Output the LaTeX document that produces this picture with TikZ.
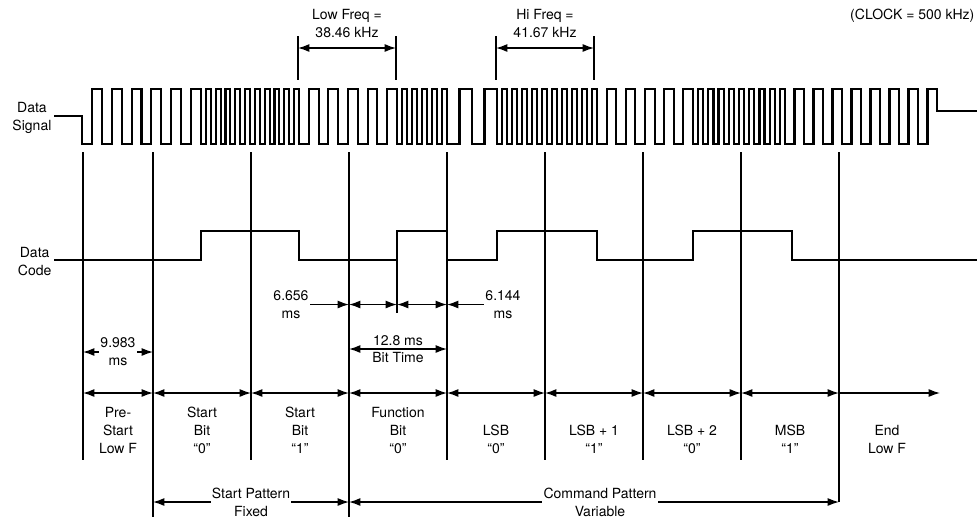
\documentclass[tikz,border=0pt]{standalone}
\usepackage{fontspec}
\setmainfont{TeX Gyre Heros}
\usetikzlibrary{arrows.meta}

\begin{document}
\begin{tikzpicture}[x=0.75pt,y=-0.75pt,font=\fontsize{10.5}{13.5}\selectfont,>={Latex[length=8.5pt,width=6pt]}]
  \tikzstyle{wave}=[line width=1.6pt,line join=miter]
  \tikzstyle{guide}=[line width=0.8pt]
  \tikzstyle{dim}=[line width=1pt,<->]
  \tikzstyle{dimto}=[line width=1pt,->]
  \tikzstyle{txt}=[align=center,inner sep=1pt]
  \useasboundingbox (0,0) rectangle (978,519);

  \foreach \x/\e [count=\i from 0] in {83/460,153/517,251/460,349/517,447/460,545/460,643/460,741/460,839/502}{
    \coordinate (t\i) at (\x,152);
    \coordinate (r\i) at (\x,393);
    \coordinate (e\i) at (\x,\e);
    \draw[guide] (t\i) -- (e\i);
  }

  \draw[wave] (54,116) -- (82,116)
    \foreach \a/\b/\n in {82/201/6,201/299/10,299/397/5,397/447/5,447/497/2,497/597/10,597/693/5,693/785/9,785/937/8}{
      \foreach \k in {1,...,\n}{
        -- ({\a+(\k-1)*(\b-\a)/\n},144) -- ({\a+(\k-0.5)*(\b-\a)/\n},144)
        -- ({\a+(\k-0.5)*(\b-\a)/\n},89) -- ({\a+\k*(\b-\a)/\n},89)
      }
    } -- (937,111) -- (977,111);
  \draw[wave] (54,260)
    \foreach \a/\b in {201/299,397/447,497/597,693/792}{
      -- (\a,260) -- (\a,231) -- (\b,231) -- (\b,260)
    } -- (977,260);

  \node[txt,anchor=east] (sig) at (53,118) {Data\\Signal};
  \node[txt,anchor=east] (code) at (53,262) {Data\\Code};
  \node[txt] (lowf) at (347,23) {Low Freq =\\38.46 kHz};
  \node[txt] (hif) at (545,23) {Hi Freq =\\41.67 kHz};
  \node[txt,anchor=east] (clk) at (976,16) {(CLOCK = 500 kHz)};

  \foreach \n/\a/\b in {lf/298/396,hf/496/594}{
    \coordinate (\n a) at (\a,36); \coordinate (\n b) at (\b,36);
    \coordinate (\n c) at (\a,80); \coordinate (\n d) at (\b,80);
    \coordinate (\n 1) at (\a,48); \coordinate (\n 2) at (\b,48);
    \draw[guide] (\n a) -- (\n c);
    \draw[guide] (\n b) -- (\n d);
    \draw[dim] (\n 1) -- (\n 2);
  }

  \coordinate (f0) at (349,304.5);
  \coordinate (fm) at (397,304.5);
  \coordinate (f1) at (447,304.5);
  \coordinate (fmtop) at (397,260);
  \coordinate (fmbot) at (397,313);
  \draw[guide] (fmtop) -- (fmbot);
  \node[txt] (lo) at (291,304.5) {6.656\\ms};
  \node[txt] (hi) at (503,304.5) {6.144\\ms};
  \draw[dimto] (lo.east) -- (f0);
  \draw[dim] (f0) -- (fm);
  \draw[dim] (fm) -- (f1);
  \draw[dimto] (hi.west) -- (f1);

  \coordinate (p0) at (83,352);
  \coordinate (p1) at (153,352);
  \draw[dim] (p0) -- node[txt,fill=white] (pre) {9.983\\ms} (p1);
  \coordinate (b0) at (349,349);
  \coordinate (b1) at (447,349);
  \draw[dim] (b0) -- node[above,inner sep=2pt] (bt) {12.8 ms} node[below,inner sep=2pt] (bt2) {Bit Time} (b1);

  \foreach \i [remember=\i as \j (initially 0)] in {1,...,8}
    \draw[dim] (r\j) -- (r\i);
  \coordinate (rend) at (940,393);
  \draw[dimto] (r8) -- (rend);

  \foreach \x/\t [count=\i] in {118/{Pre-\\Start\\Low F},202/{Start\\Bit\\“0”},300/{Start\\Bit\\“1”},398/{Function\\Bit\\“0”},496/{LSB\\“0”},594/{LSB + 1\\“1”},692/{LSB + 2\\“0”},790/{MSB\\“1”},887/{End\\Low F}}
    \node[txt,anchor=south] (lab\i) at (\x,455) {\t};

  \coordinate (s0) at (153,502);
  \coordinate (s1) at (349,502);
  \coordinate (c1) at (839,502);
  \draw[dim] (s0) -- node[txt,fill=white] (sp) {Start Pattern\\Fixed} (s1);
  \draw[dim] (s1) -- node[txt,fill=white,xshift=4.5pt] (cp) {Command Pattern\\Variable} (c1);
\end{tikzpicture}
\end{document}
